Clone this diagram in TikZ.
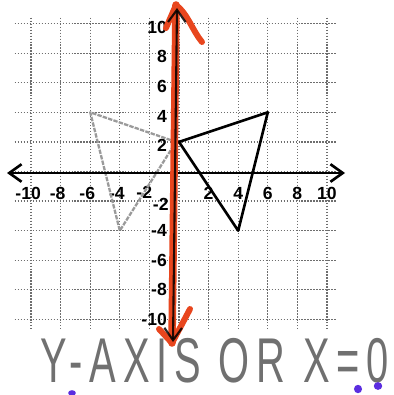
\documentclass[tikz,border=0pt]{standalone}
\usepackage{fontspec}
\setmainfont{Liberation Sans}
\newfontfamily\capfont[LetterSpace=17]{Liberation Sans}
\usetikzlibrary{arrows.meta}
\definecolor{gridgray}{HTML}{6E6E6E}
\definecolor{marker}{HTML}{E8461E}
\definecolor{pencil}{HTML}{707070}
\definecolor{lighttri}{HTML}{9A9A9A}
\definecolor{inkviolet}{HTML}{5B2DE0}
\begin{document}
\begin{tikzpicture}[x=0.02cm,y=-0.02cm,
  gridline/.style={gridgray, densely dotted, line width=0.7pt},
  axisline/.style={black, line width=1.5pt,
    {Straight Barb[length=7pt,width=10pt]}-{Straight Barb[length=7pt,width=10pt]}},
  markerline/.style={marker, line width=4.3pt, line cap=round, line join=round},
  ticklabel/.style={font=\fontsize{10}{12}\selectfont\bfseries, inner sep=0pt},
  image tri/.style={black, line width=1.5pt, line join=round},
  pre tri/.style={lighttri, line width=1.3pt, dash pattern=on 2.5pt off 0.7pt, line join=round},
  inkdot/.style={inkviolet}]
\useasboundingbox (0,0) rectangle (393,395);
\fill[white] (0,0) rectangle (393,395);

% graph area
\begin{scope}[shift={(179,171.5)}, x=0.296cm, y=0.296cm]
  \foreach \v in {-10,-8,...,10}
    \draw[gridline] (-11.1,\v) -- (10.6,\v);
  \foreach \u in {-10,-8,...,10}
    \draw[gridline] (\u,10.4) -- (\u,-10.6);
  % tick labels
  \foreach \u in {2,4,...,10} {
    \node[ticklabel] (xp\u) at (\u,-1.45) {\u};
    \node[ticklabel, anchor=east] (yp\u) at (-0.8,\u-0.25) {\u};
  }
  \foreach \u in {4,6,...,10} {
    \node[ticklabel] (xn\u) at (-\u,-1.45) {\llap{-}\u};
    \node[ticklabel, anchor=east] (yn\u) at (-0.8,-\u) {-\u};
  }
  \node[ticklabel] (xn2) at (-2.15,-1.4) {\llap{-}2};
  \node[ticklabel, anchor=east] (yn2) at (-0.68,-2.2) {-2};
  % triangles
  \coordinate (A) at (-0.2,2);
  \coordinate (B) at (-6,4);
  \coordinate (C) at (-4,-4);
  \coordinate (A') at (0,2);
  \coordinate (B') at (6,4);
  \coordinate (C') at (4,-4);
  \draw[pre tri] (A) -- (B) -- (C) -- cycle;
  \draw[image tri] (A') -- (B') -- (C') -- cycle;
\end{scope}

% x-axis
\coordinate (xl) at (7,173);
\coordinate (xr) at (345,173);
\draw[axisline] (xl) -- (xr);

% y-axis with red marker
\coordinate (yt) at (177,8);
\coordinate (yb) at (173,342);
\coordinate (rt) at (176,5);
\coordinate (rtl) at (166,28);
\coordinate (rtr) at (202,42);
\coordinate (rb) at (172,343);
\coordinate (rbl) at (159,329);
\coordinate (rbr) at (190,309);
\draw[markerline] (rt) -- (rb);
\draw[markerline, line width=3.4pt] (rtl) -- (rt) .. controls (188,14) and (192,30) .. (rtr);
\draw[markerline, line width=3.4pt] (rbl) -- (rb) -- (rbr);
\draw[axisline, line width=1.2pt, opacity=0.85] (yb) -- (yt);

% caption
\node[pencil, font=\fontsize{36}{40}\capfont, xscale=0.63, anchor=base west, inner sep=0pt]
  (caption) at (40,382) {Y-AXIS OR X=0};

% stray violet marks
\fill[inkdot] (358,389) ellipse [x radius=2.3pt, y radius=2.4pt];
\fill[inkdot] (378,386) ellipse [x radius=2.4pt, y radius=2.2pt];
\fill[inkdot] (72,393) ellipse [x radius=2.2pt, y radius=1.6pt];
\end{tikzpicture}
\end{document}
